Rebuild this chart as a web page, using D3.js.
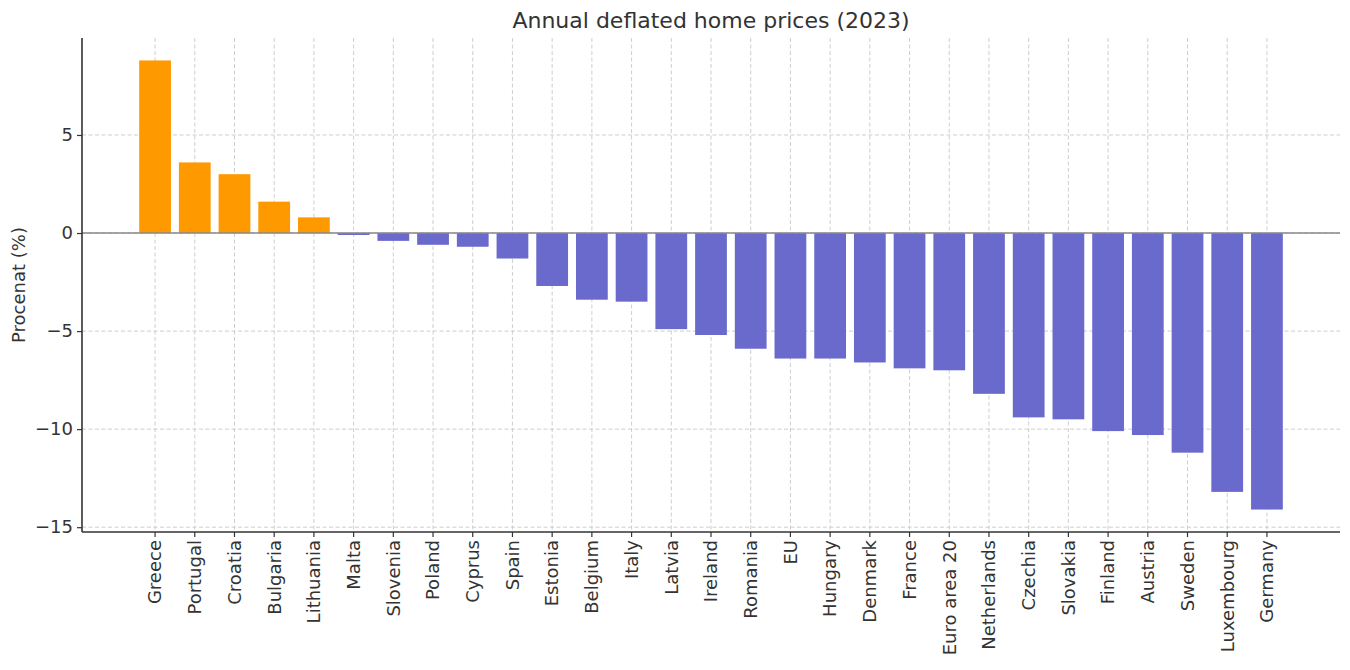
<!DOCTYPE html>
<meta charset="utf-8">
<head>
    <title>Annual deflated home prices (2023)</title>
    <script src="https://cdn.jsdelivr.net/npm/d3@7"></script>
    <style>
        body { margin: 0; padding: 0; background: white; }
        text { font-family: "DejaVu Sans", sans-serif; fill: #333; }
        .grid line { stroke: #c8c8c8; stroke-width: 0.9; stroke-dasharray: 4,2.5; }
    </style>
</head>
<body>
<script>
    // Data
    const countries = ["Greece", "Portugal", "Croatia", "Bulgaria", "Lithuania", "Malta", "Slovenia",
        "Poland", "Cyprus", "Spain", "Estonia", "Belgium", "Italy", "Latvia", "Ireland", "Romania",
        "EU", "Hungary", "Denmark", "France", "Euro area 20", "Netherlands", "Czechia", "Slovakia",
        "Finland", "Austria", "Sweden", "Luxembourg", "Germany"];
    const changes = [8.8, 3.6, 3.0, 1.6, 0.8, -0.1, -0.4, -0.6, -0.7, -1.3, -2.7, -3.4, -3.5, -4.9,
        -5.2, -5.9, -6.4, -6.4, -6.6, -6.9, -7.0, -8.2, -9.4, -9.5, -10.1, -10.3, -11.2, -13.2, -14.1];
    const yTicks = [-15, -10, -5, 0, 5];

    const width = 1350, height = 670;
    const margin = {top: 38, right: 10, bottom: 138, left: 82};

    const svg = d3.select("body").append("svg")
        .attr("width", width)
        .attr("height", height);

    // Scales
    const x = d3.scaleBand()
        .domain(countries)
        .range([margin.left, width - margin.right])
        .paddingInner(0.2)
        .paddingOuter(1.44);

    const y = d3.scaleLinear()
        .domain([-15.245, 9.945])
        .range([height - margin.bottom, margin.top]);

    // Grid
    const grid = svg.append("g").attr("class", "grid");
    grid.selectAll(".vg")
        .data(countries)
        .enter().append("line")
        .attr("x1", d => x(d) + x.bandwidth() / 2)
        .attr("x2", d => x(d) + x.bandwidth() / 2)
        .attr("y1", margin.top)
        .attr("y2", height - margin.bottom);
    grid.selectAll(".hg")
        .data(yTicks)
        .enter().append("line")
        .attr("x1", margin.left)
        .attr("x2", width - margin.right)
        .attr("y1", d => y(d))
        .attr("y2", d => y(d));

    // Bars
    svg.append("g")
        .selectAll("rect")
        .data(countries)
        .enter().append("rect")
        .attr("x", d => x(d))
        .attr("width", x.bandwidth())
        .attr("y", (d, i) => y(Math.max(0, changes[i])))
        .attr("height", (d, i) => Math.abs(y(changes[i]) - y(0)))
        .attr("fill", (d, i) => changes[i] > 0 ? "#ff9900" : "#6a6acd");

    // Zero line
    svg.append("line")
        .attr("x1", margin.left)
        .attr("x2", width - margin.right)
        .attr("y1", y(0))
        .attr("y2", y(0))
        .attr("stroke", "#888")
        .attr("stroke-width", 1.5);

    // Axes
    const xAxis = svg.append("g")
        .attr("transform", `translate(0,${height - margin.bottom})`)
        .call(d3.axisBottom(x).tickSizeOuter(0).tickSize(5).tickPadding(3));
    xAxis.select(".domain").remove();
    xAxis.selectAll(".tick line").attr("stroke", "#333").attr("stroke-width", 1.2);
    xAxis.selectAll("text")
        .attr("font-size", 18)
        .attr("fill", "#333")
        .attr("transform", "rotate(-90)")
        .attr("text-anchor", "end")
        .attr("x", -8)
        .attr("y", 0)
        .attr("dy", "0.35em");

    const yAxis = svg.append("g")
        .attr("transform", `translate(${margin.left},0)`)
        .call(d3.axisLeft(y).tickValues(yTicks).tickSizeOuter(0).tickSize(5).tickPadding(4));
    yAxis.select(".domain").remove();
    yAxis.selectAll(".tick line").attr("stroke", "#333").attr("stroke-width", 1.2);
    yAxis.selectAll("text")
        .attr("font-size", 18)
        .attr("fill", "#333");

    // Spines (left and bottom only)
    svg.append("line")
        .attr("x1", margin.left).attr("x2", margin.left)
        .attr("y1", margin.top).attr("y2", height - margin.bottom)
        .attr("stroke", "#333").attr("stroke-width", 1.6);
    svg.append("line")
        .attr("x1", margin.left).attr("x2", width - margin.right)
        .attr("y1", height - margin.bottom).attr("y2", height - margin.bottom)
        .attr("stroke", "#333").attr("stroke-width", 1.6);

    // Title and label
    svg.append("text")
        .attr("x", (margin.left + width - margin.right) / 2)
        .attr("y", 28)
        .attr("text-anchor", "middle")
        .attr("font-size", 22)
        .text("Annual deflated home prices (2023)");

    svg.append("text")
        .attr("transform", `translate(25,${(margin.top + height - margin.bottom) / 2}) rotate(-90)`)
        .attr("text-anchor", "middle")
        .attr("font-size", 18)
        .text("Procenat (%)");
</script>
</body>
</html>
